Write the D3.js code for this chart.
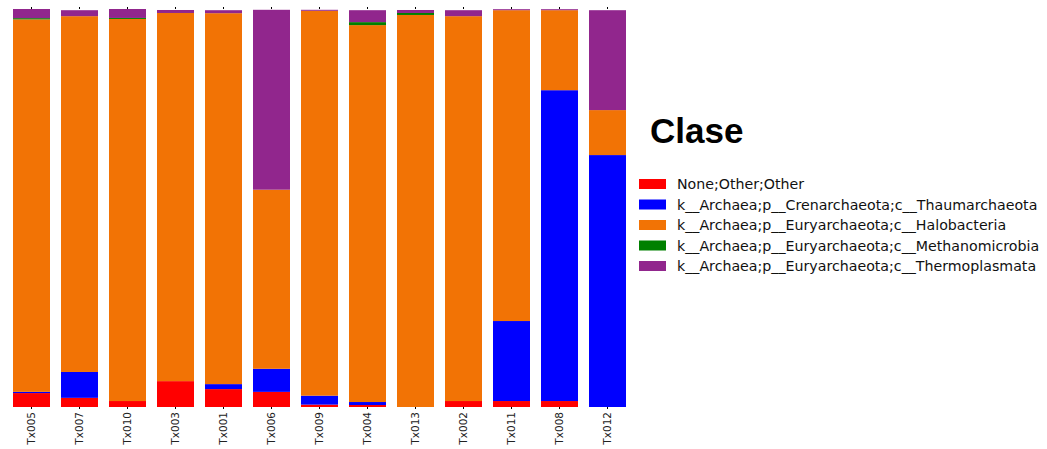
<!DOCTYPE html>
<html>
<head>
<meta charset="utf-8">
<script src="https://cdn.jsdelivr.net/npm/d3@7"></script>
<style>
  html, body { margin: 0; padding: 0; background: #fff; }
  svg { display: block; }
</style>
</head>
<body>
<svg id="chart" width="1047" height="449"></svg>
<script>
// Relative abundance of archaeal classes per sample (stacked, bottom to top)
const samples = ["Tx005", "Tx007", "Tx010", "Tx003", "Tx001", "Tx006", "Tx009",
                 "Tx004", "Tx013", "Tx002", "Tx011", "Tx008", "Tx012"];

const taxa = [
  "None;Other;Other",
  "k__Archaea;p__Crenarchaeota;c__Thaumarchaeota",
  "k__Archaea;p__Euryarchaeota;c__Halobacteria",
  "k__Archaea;p__Euryarchaeota;c__Methanomicrobia",
  "k__Archaea;p__Euryarchaeota;c__Thermoplasmata"
];

const noneOther      = [0.035, 0.023, 0.015, 0.065, 0.045, 0.038, 0.006, 0.005, 0.000, 0.015, 0.015, 0.015, 0.000];
const thaumarchaeota = [0.003, 0.065, 0.000, 0.000, 0.0125, 0.058, 0.0225, 0.0075, 0.000, 0.000, 0.201, 0.781, 0.633];
const halobacteria   = [0.936, 0.894, 0.960, 0.925, 0.932, 0.450, 0.967, 0.947, 0.985, 0.967, 0.781, 0.201, 0.113];
const methanomicrobia= [0.003, 0.000, 0.0025, 0.000, 0.000, 0.000, 0.000, 0.0075, 0.005, 0.000, 0.000, 0.000, 0.000];
const thermoplasmata = [0.023, 0.015, 0.0225, 0.0075, 0.0075, 0.452, 0.0025, 0.030, 0.0075, 0.015, 0.0025, 0.0025, 0.251];

const colors = ["#ff0000", "#0000ff", "#f27305", "#008000", "#91268d"];
const legendTitle = "Clase";

const seriesValues = [noneOther, thaumarchaeota, halobacteria, methanomicrobia, thermoplasmata];
const table = samples.map((s, i) => {
  const row = { sample: s };
  taxa.forEach((t, k) => { row[t] = seriesValues[k][i]; });
  return row;
});

const svg = d3.select("#chart");

const x = d3.scaleBand()
  .domain(samples)
  .range([7.5, 631.5])
  .paddingInner(11 / 48)
  .paddingOuter(11 / 96);

const y = d3.scaleLinear().domain([0, 1]).range([407, 9]);

const color = d3.scaleOrdinal().domain(taxa).range(colors);

const stacked = d3.stack().keys(taxa)(table);

// Stacked bars (empty segments are skipped)
svg.append("g")
  .selectAll("g")
  .data(stacked)
  .join("g")
    .attr("fill", d => color(d.key))
  .selectAll("rect")
  .data(d => d.filter(seg => seg[1] - seg[0] > 0))
  .join("rect")
    .attr("x", d => x(d.data.sample))
    .attr("width", x.bandwidth())
    .attr("y", d => y(d[1]))
    .attr("height", d => y(d[0]) - y(d[1]));

// Bottom axis: sample names rotated vertically
const xAxis = svg.append("g")
  .attr("transform", "translate(0,407)")
  .call(d3.axisBottom(x).tickSize(2).tickPadding(4));
xAxis.select(".domain").remove();
xAxis.selectAll(".tick line").attr("stroke", "#000");
xAxis.selectAll(".tick text")
  .attr("font-family", "DejaVu Sans, sans-serif")
  .attr("font-size", "10.5px")
  .attr("fill", "#222")
  .attr("transform", "rotate(-90)")
  .attr("text-anchor", "end")
  .attr("x", -5)
  .attr("y", 0)
  .attr("dy", "0.35em");

// Top tick marks
const xTop = svg.append("g")
  .attr("transform", "translate(0,9)")
  .call(d3.axisTop(x).tickSize(2).tickFormat(""));
xTop.select(".domain").remove();
xTop.selectAll(".tick line").attr("stroke", "#000");

// Legend
const legend = svg.append("g");
legend.append("text")
  .attr("x", 650)
  .attr("y", 143)
  .attr("font-family", "Liberation Sans, Arial, sans-serif")
  .attr("font-weight", "bold")
  .attr("font-size", "35px")
  .attr("fill", "#000")
  .text(legendTitle);

const items = legend.selectAll("g.item")
  .data(taxa)
  .join("g")
    .attr("class", "item")
    .attr("transform", (d, i) => `translate(639,${179 + i * 20.5})`);

items.append("rect")
  .attr("width", 27)
  .attr("height", 10)
  .attr("fill", d => color(d));

items.append("text")
  .attr("x", 38)
  .attr("y", 10)
  .attr("font-family", "DejaVu Sans, sans-serif")
  .attr("font-size", "14.2px")
  .attr("fill", "#111")
  .text(d => d);
</script>
</body>
</html>
